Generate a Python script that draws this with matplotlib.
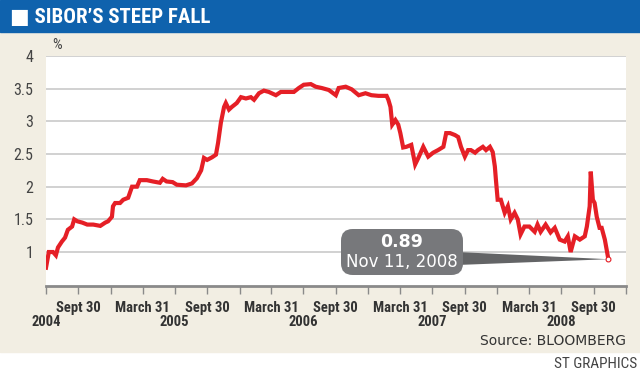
import numpy as np
import pandas as pd
import matplotlib
matplotlib.use("Agg")
import matplotlib.pyplot as plt
import matplotlib.dates as mdates
from matplotlib import font_manager
from matplotlib.patches import FancyBboxPatch, Polygon, Rectangle

# 3-month SIBOR, %
dates = [
    "2004-06-30", "2004-07-08", "2004-07-20", "2004-07-28", "2004-08-03", "2004-08-14",
    "2004-08-23", "2004-08-31", "2004-09-12", "2004-09-18", "2004-09-27", "2004-10-11",
    "2004-10-25", "2004-11-11", "2004-12-01", "2004-12-15", "2004-12-23",
    "2005-01-03", "2005-01-06", "2005-01-12", "2005-01-26", "2005-02-04", "2005-02-18",
    "2005-03-01", "2005-03-15", "2005-03-23", "2005-04-12", "2005-04-29", "2005-05-19",
    "2005-05-27", "2005-06-07", "2005-06-24", "2005-07-06", "2005-08-01", "2005-08-18",
    "2005-09-01", "2005-09-13", "2005-09-21", "2005-09-30", "2005-10-14", "2005-10-25",
    "2005-10-31", "2005-11-08", "2005-11-17", "2005-11-22", "2005-12-01", "2005-12-09",
    "2005-12-23",
    "2006-01-04", "2006-01-18", "2006-02-01", "2006-02-10", "2006-02-24", "2006-03-10",
    "2006-03-24", "2006-04-13", "2006-04-27", "2006-05-14", "2006-06-03", "2006-06-17",
    "2006-07-01", "2006-07-21", "2006-08-04", "2006-08-21", "2006-09-10", "2006-09-30",
    "2006-10-08", "2006-10-28", "2006-11-14", "2006-12-04", "2006-12-23",
    "2007-01-09", "2007-01-29", "2007-02-21", "2007-02-26", "2007-03-04", "2007-03-09",
    "2007-03-18", "2007-03-26", "2007-04-01", "2007-04-09", "2007-04-18", "2007-05-02",
    "2007-05-13", "2007-05-22", "2007-06-05", "2007-06-19", "2007-07-03", "2007-07-17",
    "2007-08-01", "2007-08-09", "2007-08-20", "2007-09-03", "2007-09-12", "2007-09-20",
    "2007-10-01", "2007-10-10", "2007-10-18", "2007-10-30", "2007-11-07", "2007-11-21",
    "2007-11-30", "2007-12-11", "2007-12-19", "2007-12-25", "2007-12-28",
    "2008-01-02", "2008-01-11", "2008-01-22", "2008-01-31", "2008-02-08", "2008-02-19",
    "2008-02-28", "2008-03-07", "2008-03-18", "2008-04-01", "2008-04-16", "2008-04-24",
    "2008-05-03", "2008-05-17", "2008-05-31", "2008-06-12", "2008-06-26", "2008-07-10",
    "2008-07-19", "2008-07-27", "2008-08-08", "2008-08-22", "2008-09-05", "2008-09-11",
    "2008-09-19", "2008-09-22", "2008-09-28", "2008-10-03", "2008-10-09", "2008-10-17",
    "2008-10-23", "2008-11-01", "2008-11-11",
]
sibor = [
    0.76, 1.00, 1.00, 0.95, 1.07, 1.16,
    1.22, 1.34, 1.39, 1.50, 1.47, 1.45,
    1.42, 1.42, 1.40, 1.45, 1.47,
    1.54, 1.70, 1.75, 1.75, 1.80, 1.83,
    2.00, 2.00, 2.10, 2.10, 2.08, 2.06,
    2.12, 2.08, 2.07, 2.03, 2.02, 2.05,
    2.13, 2.25, 2.44, 2.41, 2.45, 2.49,
    2.67, 2.98, 3.22, 3.28, 3.18, 3.22,
    3.28,
    3.37, 3.35, 3.37, 3.33, 3.43, 3.47,
    3.45, 3.40, 3.45, 3.45, 3.45, 3.51,
    3.56, 3.57, 3.53, 3.51, 3.48, 3.40,
    3.51, 3.53, 3.49, 3.40, 3.43,
    3.40, 3.39, 3.39, 3.33, 3.22, 2.95,
    3.02, 2.95, 2.82, 2.60, 2.61, 2.64,
    2.34, 2.44, 2.61, 2.46, 2.52, 2.56,
    2.61, 2.82, 2.82, 2.79, 2.76, 2.61,
    2.46, 2.56, 2.56, 2.52, 2.56, 2.61,
    2.56, 2.61, 2.53, 2.31, 2.11,
    1.80, 1.80, 1.60, 1.70, 1.50, 1.60,
    1.50, 1.27, 1.39, 1.39, 1.31, 1.42,
    1.31, 1.42, 1.30, 1.37, 1.19, 1.16,
    1.24, 1.00, 1.24, 1.19, 1.24, 1.39,
    1.70, 2.23, 1.80, 1.75, 1.54, 1.37,
    1.37, 1.19, 0.89,
]

y_ticks = [1, 1.5, 2, 2.5, 3, 3.5, 4]
y_ticklabels = ["1", "1.5", "2", "2.5", "3", "3.5", "4"]
quarter_ends = pd.date_range("2004-06-30", "2008-12-31", freq="QE")
year_labels = ["2004", "2005", "2006", "2007", "2008"]

df = pd.DataFrame({"date": pd.to_datetime(dates), "sibor": sibor})

BLUE = "#0f62ad"
BEIGE = "#f2eee3"
RED = "#e51f26"
GREY_BOX = "#77787b"

# pick a condensed face if one is installed
installed = {f.name for f in font_manager.fontManager.ttflist}
condensed = {}
for name in ["Liberation Sans Narrow", "Roboto Condensed", "Open Sans Condensed",
             "DejaVu Sans Condensed"]:
    if name in installed:
        condensed = {"family": [name, "DejaVu Sans"]}
        break
if not condensed:
    condensed = {"family": ["DejaVu Sans"], "stretch": "condensed"}

fig = plt.figure(figsize=(6.4, 3.77), dpi=100)
fig.patch.set_facecolor("white")

# background panels
fig.add_artist(Rectangle((0, 1 - 352 / 377), 1, (352 - 32) / 377,
                         transform=fig.transFigure, color=BEIGE, zorder=-10))
fig.add_artist(Rectangle((0, 1 - 32 / 377), 1, 32 / 377,
                         transform=fig.transFigure, color=BLUE, zorder=-10))
fig.text(10 / 640, 1 - 17 / 377, "\u25a0 SIBOR\u2019S STEEP FALL", color="white",
         fontsize=15, fontweight="bold", va="center", ha="left", **condensed)

ax = fig.add_axes([46 / 640, 1 - 286 / 377, 580 / 640, 230 / 377])
ax.set_facecolor("white")

ax.plot(df["date"], df["sibor"], color=RED, lw=3, solid_joinstyle="miter", zorder=3)
ax.plot(df["date"].iloc[-1:], df["sibor"].iloc[-1:], "o", ms=3.5, mfc="white",
        mec=RED, mew=0.8, zorder=5)

ax.set_xlim(quarter_ends[0], quarter_ends[-1])
ax.set_ylim(0.48, 4)

ax.set_yticks(y_ticks)
ax.set_yticklabels(y_ticklabels)
ax.tick_params(axis="y", length=0, pad=9, labelsize=11.5, labelcolor="#444444")
for lab in ax.get_yticklabels():
    lab.set(**condensed)
ax.grid(axis="y", color="#c9c9c9", lw=1.2, zorder=1)

ax.set_xticks(quarter_ends)
qlabels = []
for d in quarter_ends:
    if d.month == 9:
        qlabels.append("Sept 30")
    elif d.month == 3:
        qlabels.append("March 31")
    else:
        qlabels.append("")
ax.set_xticklabels(qlabels)
ax.tick_params(axis="x", length=6, width=1, color="#8a8a8a", pad=5,
               labelsize=10.5, labelcolor="#333333")
for lab in ax.get_xticklabels():
    lab.set(fontweight="bold", **condensed)

for yr in year_labels:
    ax.text(pd.Timestamp(f"{yr}-06-30"), -0.155, yr, transform=ax.get_xaxis_transform(),
            ha="center", va="center", fontsize=10.5, fontweight="bold",
            color="#333333", **condensed)

for side in ["top", "right", "left"]:
    ax.spines[side].set_visible(False)
ax.spines["bottom"].set_color("#8a8a8a")
ax.spines["bottom"].set_linewidth(2)

fig.text(52 / 640, 1 - 45 / 377, "%", fontsize=11, color="#444444",
         ha="left", va="center", **condensed)

# callout
x0 = mdates.date2num(quarter_ends[0])
x1 = mdates.date2num(quarter_ends[-1])
tip_x = (mdates.date2num(df["date"].iloc[-1]) - x0) / (x1 - x0)
tip_y = (df["sibor"].iloc[-1] - 0.48) / (4 - 0.48)
bx0, bx1 = (341 - 46) / 580, (463 - 46) / 580
by0, by1 = (286 - 275) / 230, (286 - 229) / 230
ax.add_patch(Polygon([(bx1 - 0.01, (286 - 252) / 230), (tip_x, tip_y),
                      (bx1 - 0.01, (286 - 265) / 230)], closed=True,
                     transform=ax.transAxes, color="#636466", zorder=4, lw=0))
ax.add_patch(FancyBboxPatch((bx0, by0), bx1 - bx0, by1 - by0,
                            boxstyle="round,pad=0,rounding_size=0.02",
                            transform=ax.transAxes, fc=GREY_BOX, ec="none", zorder=4,
                            mutation_aspect=580 / 230))
ax.text((bx0 + bx1) / 2, (286 - 242) / 230, "0.89", transform=ax.transAxes,
        ha="center", va="center", color="white", fontsize=12.5, fontweight="bold",
        zorder=6)
ax.text((bx0 + bx1) / 2, (286 - 262) / 230, "Nov 11, 2008", transform=ax.transAxes,
        ha="center", va="center", color="white", fontsize=12, zorder=6)

fig.text(626 / 640, 1 - 341 / 377, "Source: BLOOMBERG", fontsize=10, color="#333333",
         ha="right", va="center")
fig.text(637 / 640, 1 - 364 / 377, "ST GRAPHICS", fontsize=11, color="#444444",
         ha="right", va="center", **condensed)

fig.savefig("out.png", dpi=100)
